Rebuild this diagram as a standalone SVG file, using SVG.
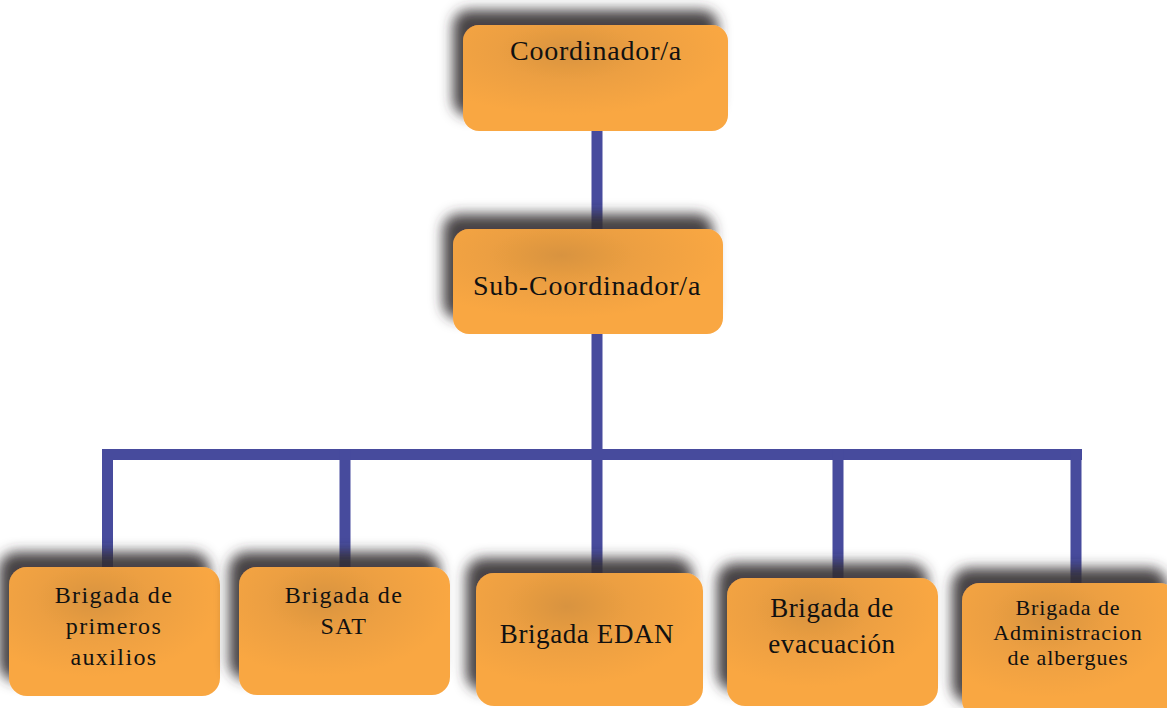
<svg xmlns="http://www.w3.org/2000/svg" width="1167" height="708" viewBox="0 0 1167 708">
  <style>
    .box { fill: url(#g); filter: url(#sh); }
    .ln { stroke: #474B9D; stroke-width: 11; fill: none; stroke-linecap: butt; }
    text { font-family: "Liberation Serif", "Times New Roman", serif; fill: #111; text-anchor: middle; }
    .t28 { font-size: 28px; letter-spacing: 0.8px; }
    .t24 { font-size: 24px; letter-spacing: 1.4px; }
    .t27 { font-size: 27px; letter-spacing: 0.6px; }
    .t22 { font-size: 22px; letter-spacing: 0.9px; }
  </style>
  <defs>
    <radialGradient id="g" cx="0.4" cy="0.25" r="0.6">
      <stop offset="0" stop-color="#D8933F"/>
      <stop offset="0.45" stop-color="#EC9F42"/>
      <stop offset="1" stop-color="#F9A743"/>
    </radialGradient>
    <filter id="sh" x="-25%" y="-50%" width="150%" height="180%">
      <feGaussianBlur in="SourceAlpha" stdDeviation="6.5"/>
      <feOffset dx="-10" dy="-15" result="b"/>
      <feFlood flood-color="#332e30" flood-opacity="0.9"/>
      <feComposite in2="b" operator="in"/>
      <feMerge><feMergeNode/><feMergeNode in="SourceGraphic"/></feMerge>
    </filter>
  </defs>
  <rect width="1167" height="708" fill="#ffffff"/>

  <g id="connectors">
    <line class="ln" x1="597" y1="128" x2="597" y2="232"/>
    <line class="ln" x1="597" y1="330" x2="597" y2="575"/>
    <line class="ln" x1="102" y1="454.5" x2="1082" y2="454.5"/>
    <line class="ln" x1="107.5" y1="449" x2="107.5" y2="569"/>
    <line class="ln" x1="345" y1="449" x2="345" y2="569"/>
    <line class="ln" x1="838" y1="449" x2="838" y2="580"/>
    <line class="ln" x1="1076" y1="449" x2="1076" y2="585"/>
  </g>

  <g id="coordinador">
    <rect class="box" x="463" y="25" width="265" height="106" rx="16"/>
    <text class="t28" x="596" y="60">Coordinador/a</text>
  </g>

  <g id="subcoordinador">
    <rect class="box" x="453" y="229" width="270" height="105" rx="16"/>
    <text class="t28" x="587" y="295">Sub-Coordinador/a</text>
  </g>

  <g id="primeros-auxilios">
    <rect class="box" x="9" y="567" width="211" height="129" rx="18"/>
    <text class="t24" x="114" y="603">Brigada de</text>
    <text class="t24" x="114" y="634">primeros</text>
    <text class="t24" x="114" y="665">auxilios</text>
  </g>

  <g id="sat">
    <rect class="box" x="239" y="567" width="211" height="128" rx="18"/>
    <text class="t24" x="344" y="603">Brigada de</text>
    <text class="t24" x="344" y="634">SAT</text>
  </g>

  <g id="edan">
    <rect class="box" x="476" y="573" width="227" height="133" rx="18"/>
    <text class="t27" x="587" y="643">Brigada EDAN</text>
  </g>

  <g id="evacuacion">
    <rect class="box" x="727" y="578" width="211" height="128" rx="18"/>
    <text class="t27" x="832" y="617">Brigada de</text>
    <text class="t27" x="832" y="653">evacuación</text>
  </g>

  <g id="albergues">
    <rect class="box" x="962" y="583" width="215" height="135" rx="18"/>
    <text class="t22" x="1068" y="615">Brigada de</text>
    <text class="t22" x="1068" y="640">Administracion</text>
    <text class="t22" x="1068" y="665">de albergues</text>
  </g>
</svg>
